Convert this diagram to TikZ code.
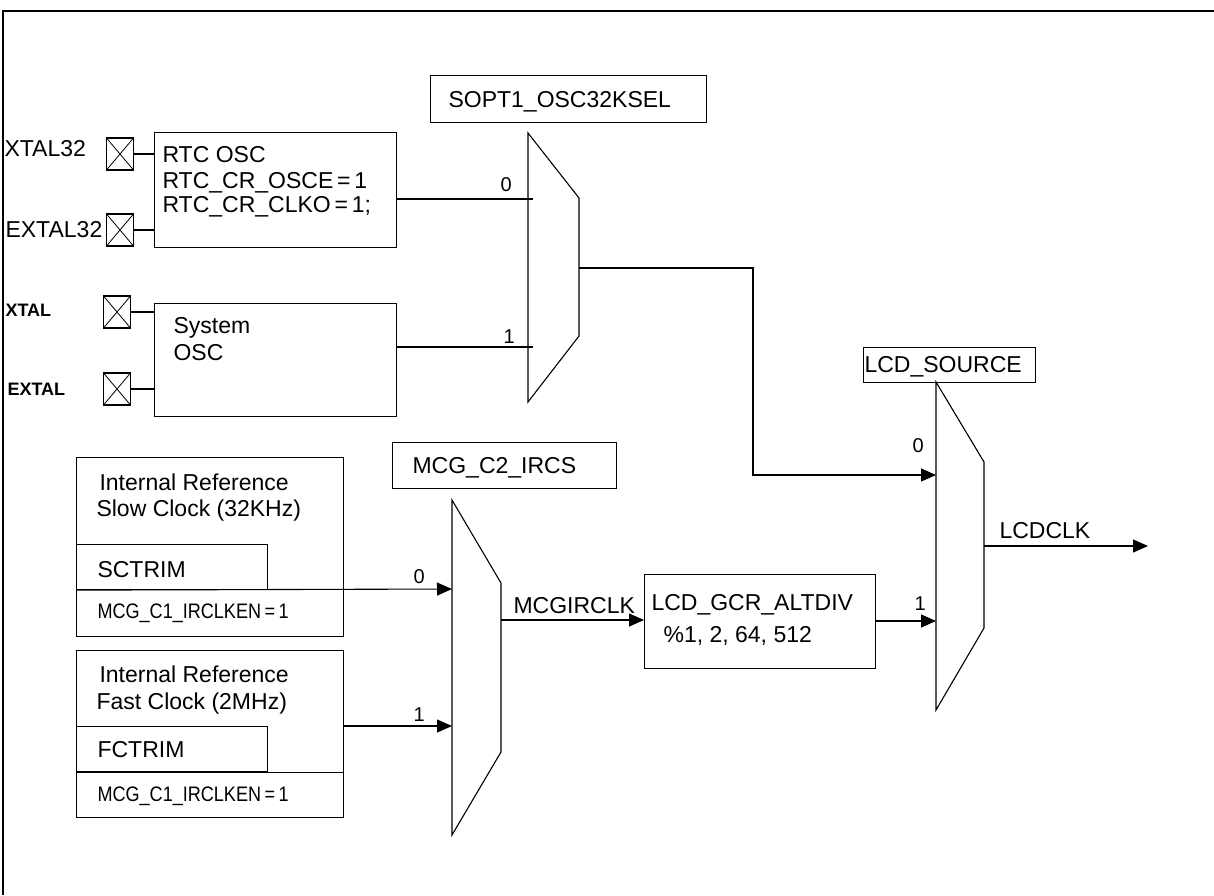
\documentclass[tikz,border=0pt]{standalone}
\usepackage{fontspec}
\setmainfont{Liberation Sans}
\newfontfamily\narrowsans[FakeStretch=0.86]{Liberation Sans}
\usetikzlibrary{arrows.meta}

\begin{document}
\begin{tikzpicture}[x=1pt, y=-1pt, line width=1.1pt,
  every node/.style={font=\fontsize{23}{27}\selectfont, inner sep=0pt},
  blk/.style={draw, anchor=north west},
  pin/.style={draw, minimum width=27pt, minimum height=32pt,
    path picture={\draw[line width=.8pt]
      (path picture bounding box.north west) -- (path picture bounding box.south east)
      (path picture bounding box.north east) -- (path picture bounding box.south west);}},
  lbl/.style={anchor=base west},
  pinlbl/.style={lbl, font=\fontsize{18}{22}\selectfont\bfseries},
  reglbl/.style={lbl, font=\narrowsans\fontsize{21}{24}\selectfont},
  sel/.style={lbl, font=\fontsize{20}{24}\selectfont},
  >={Triangle[length=15pt,width=13pt]}]
  \useasboundingbox (0,0) rectangle (1214,895);
  \draw (3,895) -- (3,11) -- (1214,11);

  % oscillators and pins
  \node[blk, minimum width=242pt, minimum height=115pt] (rtc) at (154,132) {};
  \node[blk, minimum width=242pt, minimum height=113pt] (sysosc) at (154,303) {};
  \node[pin] (p-xtal32) at (120,154) {};
  \node[pin] (p-extal32) at (120,230) {};
  \node[pin] (p-xtal) at (117,312) {};
  \node[pin] (p-extal) at (117,389) {};
  \draw (p-xtal32.east) -- (p-xtal32.east -| rtc.west);
  \draw (p-extal32.east) -- (p-extal32.east -| rtc.west);
  \draw (p-xtal.east) -- (p-xtal.east -| sysosc.west);
  \draw (p-extal.east) -- (p-extal.east -| sysosc.west);
  \node[lbl] (t-xtal32) at (4,156) {XTAL32};
  \node[lbl] (t-extal32) at (5,237) {EXTAL32};
  \node[pinlbl] (t-xtal) at (5,316) {XTAL};
  \node[pinlbl] (t-extal) at (7,395) {EXTAL};
  \node[lbl] (t-rtc1) at (162,162) {RTC OSC};
  \node[lbl] (t-rtc2) at (162,188) {RTC\_CR\_OSCE\,=\,1};
  \node[lbl] (t-rtc3) at (162,212) {RTC\_CR\_CLKO\,=\,1;};
  \node[lbl] (t-sys1) at (173,333) {System};
  \node[lbl] (t-sys2) at (173,360) {OSC};

  % internal reference clocks
  \node[blk, minimum width=267pt, minimum height=179pt] (irs) at (76,457) {};
  \node[blk, minimum width=191pt, minimum height=45pt] (sctrim) at (76,544) {};
  \node[blk, minimum width=267pt, minimum height=167pt] (irf) at (76,650) {};
  \node[blk, minimum width=191pt, minimum height=45pt] (fctrim) at (76,726) {};
  \draw (fctrim.south west) -- (fctrim.south -| irf.east);
  \node[lbl] (t-irs1) at (99,490) {Internal Reference};
  \node[lbl] (t-irs2) at (96,516) {Slow Clock (32KHz)};
  \node[lbl] (t-sctrim) at (97,577) {SCTRIM};
  \node[reglbl] (t-irs3) at (97,618) {MCG\_C1\_IRCLKEN\,=\,1};
  \node[lbl] (t-irf1) at (99,682) {Internal Reference};
  \node[lbl] (t-irf2) at (96,709) {Fast Clock (2MHz)};
  \node[lbl] (t-fctrim) at (97,757) {FCTRIM};
  \node[reglbl] (t-irf3) at (97,801) {MCG\_C1\_IRCLKEN\,=\,1};

  % select boxes
  \node[blk, minimum width=276pt, minimum height=47pt] (oscsel) at (430,75) {};
  \node[lbl] (t-oscsel) at (448,107) {SOPT1\_OSC32KSEL};
  \node[blk, minimum width=224pt, minimum height=46pt] (ircs) at (392,442) {};
  \node[lbl] (t-ircs) at (412,473) {MCG\_C2\_IRCS};
  \node[blk, minimum width=172pt, minimum height=35pt] (lcdsrc) at (863,347) {};
  \node[lbl] (t-lcdsrc) at (864,372) {LCD\_SOURCE};
  \node[blk, minimum width=231pt, minimum height=94pt] (altdiv) at (644,574) {};
  \node[lbl] (t-alt1) at (651,610) {LCD\_GCR\_ALTDIV};
  \node[lbl] (t-alt2) at (663,642) {\%1, 2, 64, 512};

  % muxes
  \coordinate (m1a) at (528,133);
  \coordinate (m1b) at (579,198);
  \coordinate (m1c) at (579,336);
  \coordinate (m1d) at (528,402);
  \draw (m1a) -- (m1b) -- (m1c) -- (m1d) -- cycle;
  \coordinate (m2a) at (452,500);
  \coordinate (m2b) at (501,583);
  \coordinate (m2c) at (501,752);
  \coordinate (m2d) at (452,835);
  \draw (m2a) -- (m2b) -- (m2c) -- (m2d) -- cycle;
  \coordinate (m3a) at (936,382);
  \coordinate (m3b) at (984,462);
  \coordinate (m3c) at (984,628);
  \coordinate (m3d) at (936,710);
  \draw (m3a) -- (m3b) -- (m3c) -- (m3d) -- cycle;

  \coordinate (m1in0) at (533,199);
  \coordinate (m1in1) at (533,347);
  \coordinate (m1out) at (579,268);
  \coordinate (bend) at (753,268);
  \coordinate (m2in0) at (452,589);
  \coordinate (m2in1) at (452,726);
  \coordinate (m2out) at (501,620);
  \coordinate (m3in0) at (936,475);
  \coordinate (m3in1) at (936,621);
  \coordinate (m3out) at (984,546);
  \coordinate (lcdclk) at (1148,546);

  % signals
  \draw (rtc.east |- m1in0) -- (m1in0);
  \draw (sysosc.east |- m1in1) -- (m1in1);
  \draw[->] (m1out) -- (bend) |- (m3in0);
  \draw[->] (sctrim.south west) -- (m2in0);
  \draw[->] (irf.east |- m2in1) -- (m2in1);
  \draw[->] (m2out) -- (m2out -| altdiv.west);
  \draw[->] (altdiv.east |- m3in1) -- (m3in1);
  \draw[->] (m3out) -- (lcdclk);
  \node[sel] (s-m1a) at (500,191) {0};
  \node[sel] (s-m1b) at (503,343) {1};
  \node[sel] (s-m2a) at (413,583) {0};
  \node[sel] (s-m2b) at (413,721) {1};
  \node[sel] (s-m3a) at (912,452) {0};
  \node[sel] (s-m3b) at (914,610) {1};
  \node[lbl] (t-mcgirclk) at (513,613) {MCGIRCLK};
  \node[lbl] (t-lcdclk) at (999,538) {LCDCLK};
\end{tikzpicture}
\end{document}
